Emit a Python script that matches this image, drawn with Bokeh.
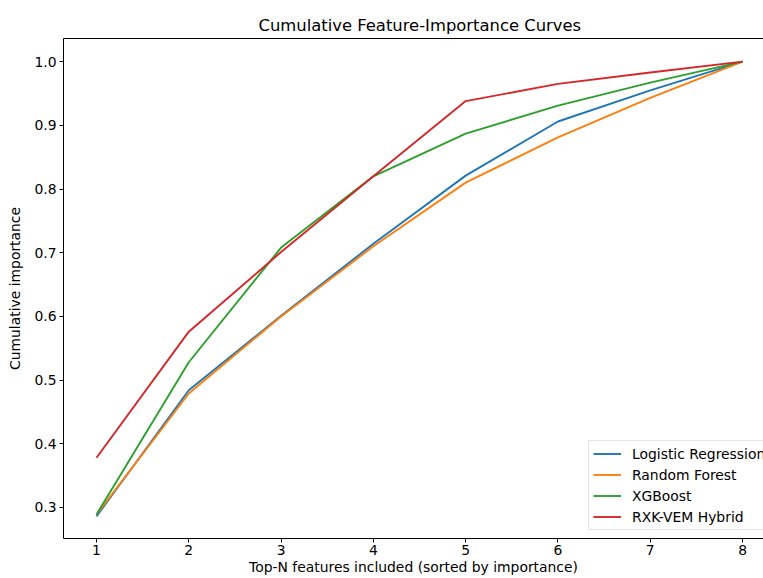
from bokeh.plotting import figure
from bokeh.models import Range1d, FixedTicker, PrintfTickFormatter, LinearAxis, Legend, LegendItem
from bokeh.embed import file_html
from bokeh.resources import INLINE

top_n = [1, 2, 3, 4, 5, 6, 7, 8]
logreg = [0.286, 0.484, 0.601, 0.714, 0.821, 0.906, 0.955, 1.0]
rforest = [0.289, 0.479, 0.600, 0.710, 0.810, 0.881, 0.943, 1.0]
xgb = [0.289, 0.528, 0.708, 0.820, 0.887, 0.931, 0.967, 1.0]
hybrid = [0.378, 0.576, 0.701, 0.820, 0.938, 0.965, 0.983, 1.0]
series_names = ["Logistic Regression", "Random Forest", "XGBoost", "RXK-VEM Hybrid"]
colors = ["#1f77b4", "#ff7f0e", "#2ca02c", "#d62728"]
x_ticks = [1, 2, 3, 4, 5, 6, 7, 8]
y_ticks = [0.3, 0.4, 0.5, 0.6, 0.7, 0.8, 0.9, 1.0]

FONT = "DejaVu Sans"

p = figure(width=763, height=578, output_backend="svg", toolbar_location=None,
           x_range=Range1d(0.6425, 8.227), y_range=Range1d(0.2513, 1.0363),
           min_border_left=63, min_border_right=0, min_border_top=38, min_border_bottom=40,
           title="Cumulative Feature-Importance Curves")
p.outline_line_color = None
p.grid.grid_line_color = None
p.background_fill_color = "white"
p.border_fill_color = "white"

p.title.text_font = FONT
p.title.text_font_size = "16.4px"
p.title.text_font_style = "normal"
p.title.text_color = "#000000"
p.title.align = "left"
p.title.offset = 195
p.title.standoff = 7

xa = p.xaxis[0]
ya = p.yaxis[0]
xa.ticker = FixedTicker(ticks=x_ticks)
ya.ticker = FixedTicker(ticks=y_ticks)
ya.formatter = PrintfTickFormatter(format="%.1f")
xa.axis_label = "Top-N features included (sorted by importance)"
ya.axis_label = "Cumulative importance"
for ax in (xa, ya):
    ax.axis_line_color = "black"
    ax.axis_line_width = 1
    ax.major_tick_line_color = "black"
    ax.major_tick_out = 4
    ax.major_tick_in = 0
    ax.minor_tick_line_color = None
    ax.major_label_text_font = FONT
    ax.major_label_text_font_size = "13.9px"
    ax.major_label_text_color = "#000000"
    ax.axis_label_text_font = FONT
    ax.axis_label_text_font_size = "13.9px"
    ax.axis_label_text_font_style = "normal"
    ax.axis_label_text_color = "#000000"
xa.major_label_standoff = 2
xa.axis_label_standoff = 1
ya.major_label_standoff = 3
ya.axis_label_standoff = 8

top_axis = LinearAxis(ticker=FixedTicker(ticks=[]), major_tick_out=0, major_tick_in=0,
                      minor_tick_line_color=None, major_label_standoff=0,
                      major_label_text_font_size="0px", axis_line_color="black")
p.add_layout(top_axis, "above")

renderers = []
for vals, col in zip([logreg, rforest, xgb, hybrid], colors):
    r = p.line(top_n, vals, line_color=col, line_width=1.9)
    renderers.append(r)

legend = Legend(items=[LegendItem(label=n, renderers=[r]) for n, r in zip(series_names, renderers)],
                location=(525, 8))
legend.margin = 0
legend.padding = 4
legend.spacing = 4
legend.label_height = 17
legend.glyph_height = 17
legend.glyph_width = 28
legend.label_standoff = 11
legend.label_text_font = FONT
legend.label_text_font_size = "13.9px"
legend.label_text_color = "#000000"
legend.border_line_color = "#cccccc"
legend.border_line_width = 1
legend.background_fill_alpha = 0.8
p.add_layout(legend, "center")

open("out.html", "w").write(file_html(p, INLINE))
